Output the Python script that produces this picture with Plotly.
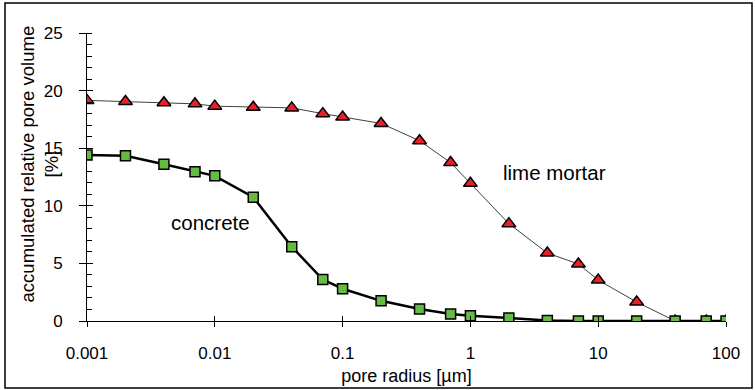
import plotly.graph_objects as go

# ---- data ----
pore_radius = [0.001, 0.002, 0.004, 0.007, 0.01, 0.02, 0.04, 0.07, 0.1, 0.2,
               0.4, 0.7, 1, 2, 4, 7, 10, 20, 40, 70, 100]
lime_mortar = [19.15, 19.05, 18.95, 18.85, 18.65, 18.55, 18.5, 18.0, 17.7, 17.15,
               15.65, 13.75, 11.95, 8.45, 5.9, 4.95, 3.55, 1.65, 0, 0, 0]
concrete = [14.4, 14.35, 13.6, 12.95, 12.6, 10.75, 6.45, 3.6, 2.8, 1.75,
            1.05, 0.6, 0.45, 0.25, 0.05, 0, 0, 0, 0, 0, 0]
x_tick_vals = [0.001, 0.01, 0.1, 1, 10, 100]
x_tick_text = ["0.001", "0.01", "0.1", "1", "10", "100"]
y_tick_vals = [0, 5, 10, 15, 20, 25]

FONT = "Arial, 'Liberation Sans', sans-serif"

fig = go.Figure()
fig.add_trace(go.Scatter(
    x=pore_radius, y=lime_mortar, mode="lines+markers", name="lime mortar",
    line=dict(color="#404040", width=1),
    marker=dict(symbol="triangle-up", size=12, color="#E8202A",
                line=dict(color="black", width=1.5)),
))
fig.add_trace(go.Scatter(
    x=pore_radius, y=concrete, mode="lines+markers", name="concrete",
    line=dict(color="black", width=2.5),
    marker=dict(symbol="square", size=10, color="#66BB44",
                line=dict(color="black", width=1.5)),
))
# empty trace to make the overlay axes (inner halves of crossing ticks) render
fig.add_trace(go.Scatter(x=[], y=[], xaxis="x2", yaxis="y2", showlegend=False,
                         hoverinfo="skip"))

fig.update_layout(
    width=755, height=390,
    margin=dict(l=87, r=29, t=33, b=69, autoexpand=False),
    paper_bgcolor="white", plot_bgcolor="white",
    showlegend=False,
    font=dict(family=FONT, color="black", size=17),
    xaxis=dict(
        type="log", range=[-3, 2],
        tickvals=x_tick_vals, ticktext=x_tick_text,
        ticks="outside", ticklen=5, tickwidth=1, tickcolor="black",
        ticklabelstandoff=12,
        showline=True, linecolor="black", linewidth=1,
        showgrid=False, zeroline=False,
        tickfont=dict(size=17),
        title=dict(text="pore radius [µm]", font=dict(size=18), standoff=6),
    ),
    xaxis2=dict(
        type="log", range=[-3, 2], overlaying="x", anchor="y",
        tickvals=x_tick_vals, ticks="inside", ticklen=5, tickwidth=1,
        tickcolor="black", showticklabels=False, showline=False,
        showgrid=False, zeroline=False,
    ),
    yaxis=dict(
        range=[0, 25], tickvals=y_tick_vals,
        ticks="outside", ticklen=7, tickwidth=1, tickcolor="black",
        ticklabelstandoff=13,
        minor=dict(dtick=1, ticks="inside", ticklen=5, tickwidth=1,
                   tickcolor="black", showgrid=False),
        showline=True, linecolor="black", linewidth=1,
        showgrid=False, zeroline=False,
        tickfont=dict(size=17),
    ),
    yaxis2=dict(
        range=[0, 25], overlaying="y", anchor="x", side="left",
        tickvals=y_tick_vals, ticks="inside", ticklen=6, tickwidth=1,
        tickcolor="black", showticklabels=False, showline=False,
        showgrid=False, zeroline=False,
    ),
    annotations=[
        dict(text="accumulated relative pore volume<br>[%]", textangle=-90,
             xref="paper", yref="paper", x=-0.0745, y=0.545,
             xanchor="center", yanchor="middle", showarrow=False,
             font=dict(size=18.5)),
        dict(text="lime mortar", xref="paper", yref="paper", x=0.7316, y=0.514,
             xanchor="center", yanchor="middle", showarrow=False,
             font=dict(size=20.5)),
        dict(text="concrete", xref="paper", yref="paper", x=0.194, y=0.342,
             xanchor="center", yanchor="middle", showarrow=False,
             font=dict(size=20.5)),
    ],
    shapes=[
        dict(type="rect", xref="paper", yref="paper",
             x0=-0.1283, x1=1.0407, y0=-0.2326, y1=1.1042,
             line=dict(color="black", width=1.5), fillcolor="rgba(0,0,0,0)",
             layer="above"),
    ],
)

fig.write_html("out.html",
               config={"displayModeBar": False},
               post_script="document.body.style.margin='0';document.body.style.overflow='hidden';")
